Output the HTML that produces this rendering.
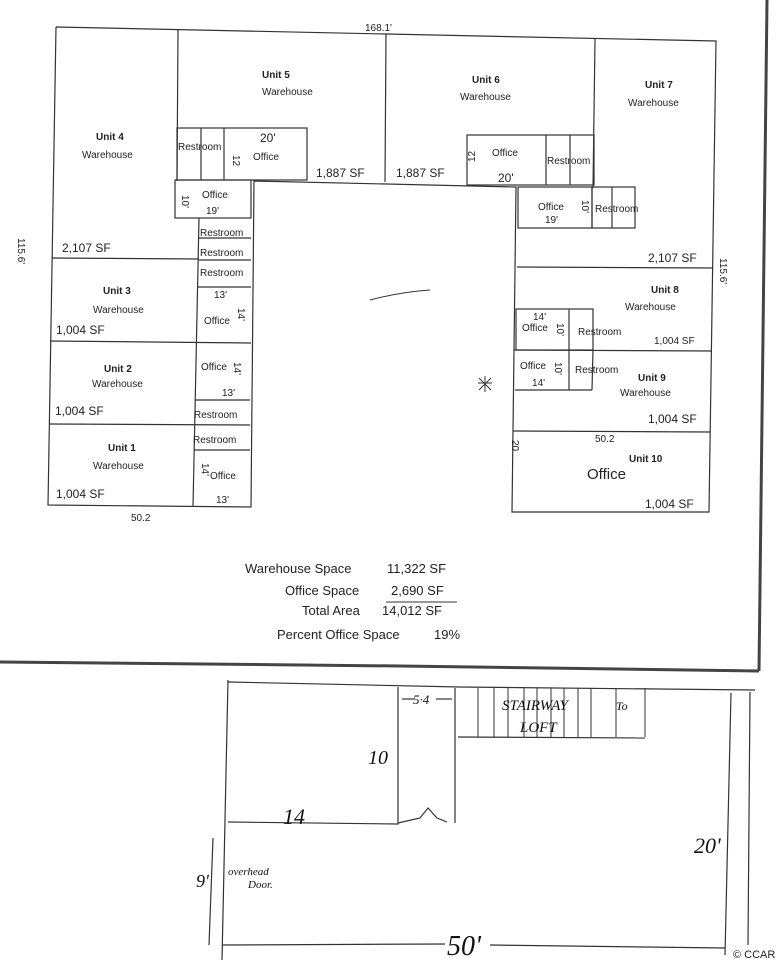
<!DOCTYPE html>
<html><head><meta charset="utf-8"><style>
html,body{margin:0;padding:0;background:#fff;}
svg{display:block;}
text{font-family:"Liberation Sans",sans-serif;fill:#222;}
.s{font-size:10px;}
.b{font-size:10px;font-weight:bold;}
.m{font-size:12px;}
.h{font-family:"Liberation Serif",serif;font-style:italic;fill:#111;}
</style></head><body>
<svg width="777" height="960" viewBox="0 0 777 960" xmlns="http://www.w3.org/2000/svg">
<g stroke="#333" stroke-width="1.2" fill="none">
<polyline points="56,27 716,41 709,512 512,512 516,187 254,181 251,507 48,505 56,27"/>
<line x1="178" y1="30" x2="177" y2="181"/>
<line x1="386" y1="34" x2="385" y2="182"/>
<line x1="595" y1="39" x2="593" y2="188"/>
<rect x="177" y="128" width="130" height="52"/>
<line x1="201" y1="128" x2="201" y2="180"/>
<line x1="224" y1="128" x2="224" y2="180"/>
<rect x="467" y="135" width="127" height="50"/>
<line x1="546" y1="135" x2="546" y2="185"/>
<line x1="570" y1="135" x2="570" y2="185"/>
<rect x="175" y="180" width="76" height="38"/>
<line x1="199" y1="218" x2="193" y2="507"/>
<line x1="199" y1="238" x2="251" y2="238"/>
<line x1="199" y1="260" x2="251" y2="260"/>
<line x1="198" y1="287" x2="251" y2="287"/>
<line x1="52" y1="258" x2="199" y2="259"/>
<line x1="50" y1="341" x2="251" y2="343"/>
<line x1="195" y1="400" x2="250" y2="400"/>
<line x1="49" y1="424" x2="250" y2="425"/>
<line x1="194" y1="450" x2="250" y2="450"/>
<rect x="518" y="187" width="74" height="41"/>
<rect x="592" y="187" width="43" height="41"/>
<line x1="612" y1="187" x2="612" y2="228"/>
<line x1="517" y1="267" x2="713" y2="268"/>
<rect x="516" y="309" width="77" height="41"/>
<line x1="569" y1="309" x2="569" y2="390"/>
<line x1="514" y1="350" x2="711" y2="351"/>
<line x1="515" y1="390" x2="592" y2="390"/>
<line x1="593" y1="350" x2="592" y2="390"/>
<line x1="513" y1="431" x2="710" y2="432"/>
<polyline points="767,0 759,671" stroke-width="3" stroke="#444"/>
<polyline points="0,662 400,666 759,671" stroke-width="3" stroke="#444"/>
<polyline points="228,682 460,687 755,690"/>
<line x1="228" y1="680" x2="222" y2="960"/>
<polyline points="228,822 398,824 398,687"/>
<line x1="455" y1="688" x2="455" y2="823"/>
<line x1="458" y1="737" x2="645" y2="738"/>
<g stroke-width="1">
<line x1="478" y1="688" x2="478" y2="737"/><line x1="494" y1="688" x2="494" y2="737"/><line x1="508" y1="688" x2="508" y2="737"/><line x1="524" y1="688" x2="524" y2="737"/><line x1="537" y1="688" x2="537" y2="737"/><line x1="551" y1="688" x2="551" y2="737"/><line x1="564" y1="688" x2="564" y2="737"/><line x1="578" y1="688" x2="578" y2="737"/><line x1="591" y1="688" x2="591" y2="737"/><line x1="616" y1="688" x2="616" y2="737"/><line x1="645" y1="688" x2="645" y2="737"/>
</g>
<line x1="731" y1="693" x2="725" y2="955"/>
<line x1="750" y1="692" x2="748" y2="945"/>
<line x1="222" y1="945" x2="445" y2="944"/>
<line x1="490" y1="945" x2="725" y2="948"/>
<polyline points="398,823 420,818 428,808 437,818 447,822"/>
<line x1="213" y1="838" x2="209" y2="945"/>
<line x1="402" y1="699" x2="414" y2="699"/><line x1="436" y1="699" x2="452" y2="699"/>
<path d="M370,300 Q400,292 430,290" stroke-width="1"/>
<path d="M478,383 L492,383 M485,376 L485,392 M479,378 L491,390 M491,378 L479,390" stroke-width="1"/>
</g>
<text x="365" y="31" class="s">168.1'</text>
<text x="262" y="78" class="b">Unit 5</text><text x="262" y="95" class="s">Warehouse</text>
<text x="472" y="83" class="b">Unit 6</text><text x="460" y="100" class="s">Warehouse</text>
<text x="645" y="88" class="b">Unit 7</text><text x="628" y="106" class="s">Warehouse</text>
<text x="96" y="140" class="b">Unit 4</text><text x="82" y="158" class="s">Warehouse</text>
<text x="178" y="150" class="s">Restroom</text>
<text x="260" y="142" class="m">20'</text><text x="253" y="160" class="s">Office</text>
<text x="233" y="155" class="s" transform="rotate(90 233 155)">12</text>
<text x="316" y="177" class="m">1,887 SF</text>
<text x="396" y="177" class="m">1,887 SF</text>
<text x="492" y="156" class="s">Office</text><text x="498" y="182" class="m">20'</text>
<text x="475" y="162" class="s" transform="rotate(-90 475 162)">12</text>
<text x="547" y="164" class="s">Restroom</text>
<text x="202" y="198" class="s">Office</text><text x="206" y="214" class="s">19'</text>
<text x="182" y="195" class="s" transform="rotate(90 182 195)">10'</text>
<text x="538" y="210" class="s">Office</text><text x="545" y="223" class="s">19'</text>
<text x="582" y="200" class="s" transform="rotate(90 582 200)">10'</text>
<text x="595" y="212" class="s">Restroom</text>
<text x="200" y="236" class="s">Restroom</text>
<text x="200" y="256" class="s">Restroom</text>
<text x="200" y="276" class="s">Restroom</text>
<text x="62" y="252" class="m">2,107 SF</text>
<text x="648" y="262" class="m">2,107 SF</text>
<text x="18" y="238" class="s" transform="rotate(90 18 238)">115.6'</text>
<text x="720" y="258" class="s" transform="rotate(90 720 258)">115.6'</text>
<text x="103" y="294" class="b">Unit 3</text><text x="93" y="313" class="s">Warehouse</text>
<text x="56" y="334" class="m">1,004 SF</text>
<text x="214" y="298" class="s">13'</text><text x="204" y="324" class="s">Office</text>
<text x="238" y="308" class="s" transform="rotate(90 238 308)">14'</text>
<text x="651" y="293" class="b">Unit 8</text><text x="625" y="310" class="s">Warehouse</text>
<text x="533" y="320" class="s">14'</text><text x="522" y="331" class="s">Office</text>
<text x="557" y="323" class="s" transform="rotate(90 557 323)">10'</text>
<text x="578" y="335" class="s">Restroom</text>
<text x="654" y="344" class="s">1,004 SF</text>
<text x="104" y="372" class="b">Unit 2</text><text x="92" y="387" class="s">Warehouse</text>
<text x="55" y="415" class="m">1,004 SF</text>
<text x="201" y="370" class="s">Office</text>
<text x="234" y="362" class="s" transform="rotate(90 234 362)">14'</text>
<text x="222" y="396" class="s">13'</text>
<text x="520" y="369" class="s">Office</text><text x="532" y="386" class="s">14'</text>
<text x="555" y="362" class="s" transform="rotate(90 555 362)">10'</text>
<text x="575" y="373" class="s">Restroom</text>
<text x="638" y="381" class="b">Unit 9</text><text x="620" y="396" class="s">Warehouse</text>
<text x="648" y="423" class="m">1,004 SF</text>
<text x="194" y="418" class="s">Restroom</text>
<text x="193" y="443" class="s">Restroom</text>
<text x="108" y="451" class="b">Unit 1</text><text x="93" y="469" class="s">Warehouse</text>
<text x="56" y="498" class="m">1,004 SF</text>
<text x="202" y="463" class="s" transform="rotate(90 202 463)">14'</text>
<text x="210" y="479" class="s">Office</text><text x="216" y="503" class="s">13'</text>
<text x="595" y="442" class="s">50.2</text>
<text x="629" y="462" class="b">Unit 10</text>
<text x="587" y="479" font-size="15">Office</text>
<text x="512" y="440" class="s" transform="rotate(90 512 440)">20</text>
<text x="645" y="508" class="m">1,004 SF</text>
<text x="131" y="521" class="s">50.2</text>
<text x="245" y="573" font-size="13">Warehouse Space</text><text x="387" y="573" font-size="13">11,322 SF</text>
<text x="285" y="595" font-size="13">Office Space</text><text x="391" y="595" font-size="13">2,690 SF</text>
<line x1="386" y1="602" x2="457" y2="602" stroke="#333"/>
<text x="302" y="615" font-size="13">Total Area</text><text x="382" y="615" font-size="13">14,012 SF</text>
<text x="277" y="639" font-size="13">Percent Office Space</text><text x="434" y="639" font-size="13">19%</text>
<text x="413" y="704" class="h" font-size="13">5·4</text>
<text x="502" y="710" class="h" font-size="15">STAIRWAY</text><text x="616" y="710" class="h" font-size="12">To</text>
<text x="520" y="732" class="h" font-size="15">LOFT</text>
<text x="368" y="764" class="h" font-size="20">10</text>
<text x="283" y="824" class="h" font-size="22">14</text>
<text x="694" y="853" class="h" font-size="22">20'</text>
<text x="196" y="887" class="h" font-size="18">9'</text>
<text x="228" y="875" class="h" font-size="11">overhead</text>
<text x="248" y="888" class="h" font-size="11">Door.</text>
<text x="447" y="955" class="h" font-size="28">50'</text>
<text x="733" y="958" font-size="11" fill="#222">© CCAR</text>
</svg>
</body></html>
